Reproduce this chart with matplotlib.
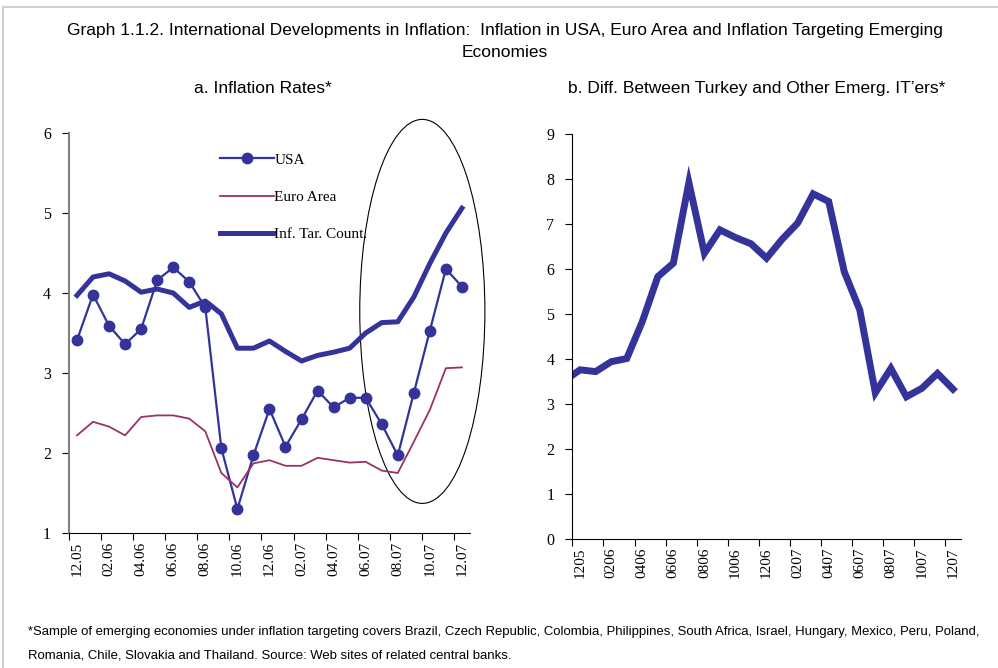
import matplotlib
matplotlib.use("Agg")
import matplotlib.pyplot as plt
from matplotlib.lines import Line2D
from matplotlib.patches import Ellipse
import numpy as np

# ---- data ----
months_a = ["12.05", "02.06", "04.06", "06.06", "08.06", "10.06", "12.06",
            "02.07", "04.07", "06.07", "08.07", "10.07", "12.07"]
months_b = ["1205", "0206", "0406", "0606", "0806", "1006", "1206",
            "0207", "0407", "0607", "0807", "1007", "1207"]

usa = [3.41, 3.98, 3.59, 3.36, 3.55, 4.16, 4.32, 4.14, 3.82, 2.06, 1.30, 1.97, 2.55,
       2.08, 2.42, 2.78, 2.57, 2.69, 2.69, 2.36, 1.97, 2.75, 3.53, 4.30, 4.08]
euro = [2.22, 2.39, 2.33, 2.22, 2.45, 2.47, 2.47, 2.43, 2.27, 1.75, 1.57, 1.87, 1.91,
        1.84, 1.84, 1.94, 1.91, 1.88, 1.89, 1.78, 1.75, 2.14, 2.54, 3.06, 3.07]
itc = [3.97, 4.20, 4.24, 4.15, 4.01, 4.05, 4.00, 3.82, 3.90, 3.74, 3.31, 3.31, 3.40,
       3.27, 3.15, 3.22, 3.26, 3.31, 3.50, 3.63, 3.64, 3.95, 4.37, 4.75, 5.06]

# Turkey minus other emerging IT'ers, 11.05 .. 12.07 (first month falls outside the axis)
diff_tr = [3.52, 3.76, 3.72, 3.94, 4.01, 4.83, 5.83, 6.13, 7.92, 6.35, 6.87, 6.70, 6.56,
           6.24, 6.66, 7.02, 7.67, 7.50, 5.94, 5.09, 3.25, 3.79, 3.16, 3.35, 3.68, 3.33]

BLUE = "#333399"
PLUM = "#993366"
SERIF = ["Liberation Serif", "DejaVu Serif"]
SANS = ["Liberation Sans", "DejaVu Sans"]


def category_axis(ax, labels):
    n = len(labels) * 2 - 1
    ax.set_xlim(-0.5, n - 0.5)
    ax.set_xticks(np.arange(-0.5, n - 1, 2))
    ax.set_xticklabels([])
    ax.set_xticks(np.arange(0, n, 2), minor=True)
    ax.set_xticklabels(labels, minor=True, rotation=90, fontsize=11, family=SERIF)
    ax.tick_params(axis="x", which="major", direction="out", length=5, width=0.8)
    ax.tick_params(axis="x", which="minor", length=0, pad=6)
    ax.tick_params(axis="y", direction="out", length=5, width=0.8, labelsize=11.5, pad=8)
    for lab in ax.get_yticklabels():
        lab.set_family(SERIF)
    ax.spines["top"].set_visible(False)
    ax.spines["right"].set_visible(False)


fig = plt.figure(figsize=(9.98, 6.68), dpi=100)

# ---- panel a ----
ax1 = fig.add_axes([0.0691, 0.2021, 0.4018, 0.5988])
x = np.arange(len(usa))
ax1.plot(x, usa, color=BLUE, lw=1.6, marker="o", ms=7.5, label="USA")
ax1.plot(x, euro, color=PLUM, lw=1.3, label="Euro Area")
ax1.plot(x, itc, color=BLUE, lw=3.6, label="Inf. Tar. Count.")
ax1.set_ylim(1, 6)
ax1.set_yticks(range(1, 7))
category_axis(ax1, months_a)
ax1.spines["left"].set_color("#808080")
ax1.spines["left"].set_linewidth(1.5)

ax1.add_patch(Ellipse((21.53, 3.77), 7.8, 4.8, fill=False, ec="black", lw=0.8,
                      clip_on=False))

ax1.legend(loc="upper left", bbox_to_anchor=(0.377, 0.95), frameon=False,
           prop={"family": SERIF, "size": 11}, handlelength=3.5, handletextpad=0.05,
           labelspacing=1.55, borderpad=0, borderaxespad=0)

# ---- panel b ----
ax2 = fig.add_axes([0.5735, 0.1931, 0.3892, 0.6063])
ax2.plot(np.arange(-1, len(diff_tr) - 1), diff_tr, color=BLUE, lw=5,
         solid_joinstyle="miter")
ax2.set_ylim(0, 9)
ax2.set_yticks(range(0, 10))
category_axis(ax2, months_b)

# ---- texts ----
fig.text(0.506, 0.955, "Graph 1.1.2. International Developments in Inflation:  Inflation in USA, "
         "Euro Area and Inflation Targeting Emerging", ha="center", va="center",
         fontsize=12.5, family=SANS)
fig.text(0.506, 0.921, "Economies", ha="center", va="center", fontsize=12.5, family=SANS)
fig.text(0.263, 0.868, "a. Inflation Rates*", ha="center", va="center",
         fontsize=12.5, family=SANS)
fig.text(0.758, 0.868, "b. Diff. Between Turkey and Other Emerg. IT\u2019ers*",
         ha="center", va="center", fontsize=12.5, family=SANS)
fig.text(0.028, 0.054, "*Sample of emerging economies under inflation targeting covers Brazil, "
         "Czech Republic, Colombia, Philippines, South Africa, Israel, Hungary, Mexico, "
         "Peru, Poland,", ha="left", va="center", fontsize=9.45, family=SANS)
fig.text(0.028, 0.019, "Romania, Chile, Slovakia and Thailand. Source: Web sites of related "
         "central banks.", ha="left", va="center", fontsize=9.45, family=SANS)

# light frame lines at top and left edge
fig.add_artist(Line2D([0.003, 1.0], [0.99, 0.99], color="#d8d0c8", lw=1.5))
fig.add_artist(Line2D([0.003, 0.003], [0.0, 0.99], color="#d8d0c8", lw=1.5))

fig.savefig("out.png", dpi=100)
